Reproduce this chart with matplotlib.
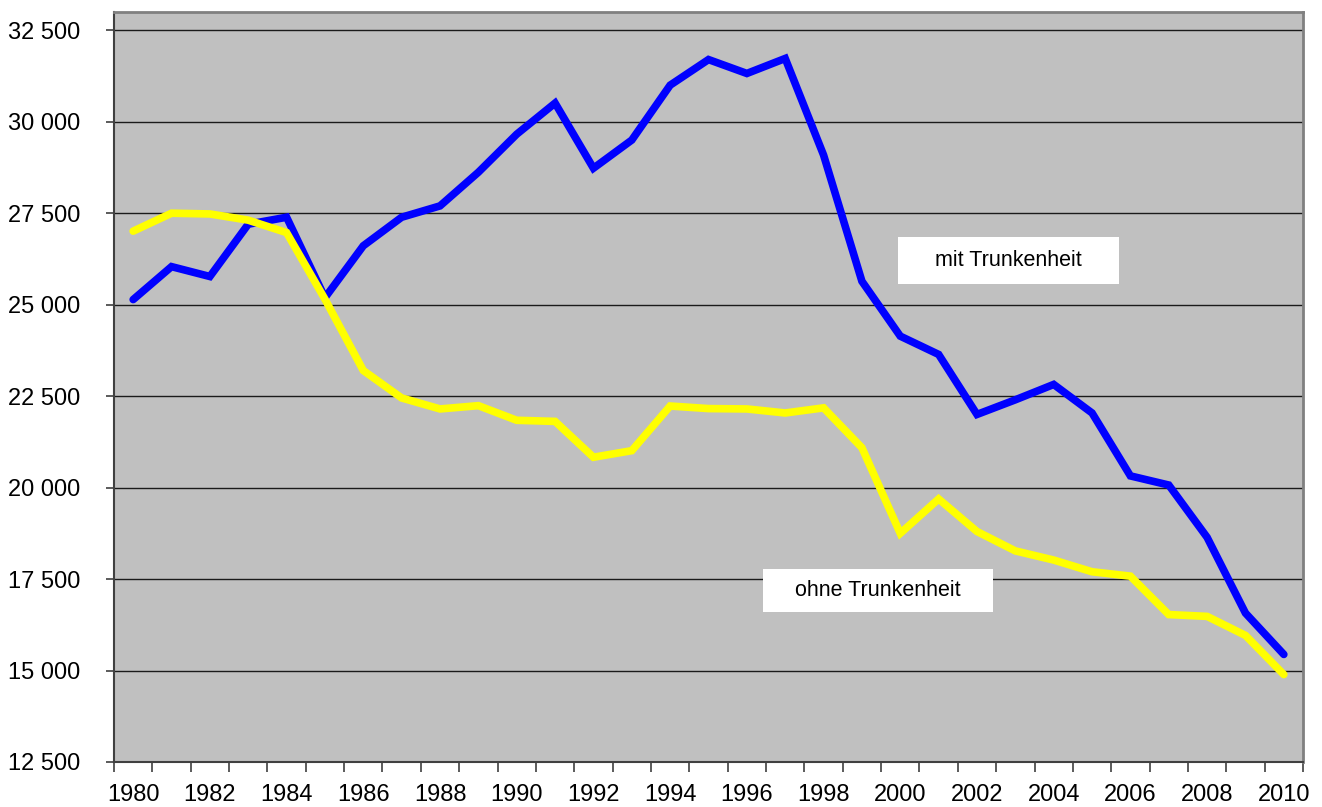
import matplotlib
matplotlib.use("Agg")
import matplotlib.pyplot as plt
from matplotlib.patches import Rectangle
from matplotlib.ticker import FuncFormatter, MultipleLocator

plt.rcParams['font.family'] = ['Liberation Sans', 'DejaVu Sans']

years = list(range(1980, 2011))
mit_trunkenheit = [25140, 26040, 25770, 27200, 27390, 25190, 26610, 27390, 27700, 28620,
                   29660, 30510, 28730, 29500, 31000, 31700, 31320, 31730, 29090, 25640,
                   24140, 23640, 22000, 22400, 22820, 22040, 20320, 20070, 18640, 16570,
                   15440]
ohne_trunkenheit = [27010, 27500, 27480, 27310, 26970, 25150, 23200, 22450, 22150, 22240,
                    21840, 21810, 20830, 21010, 22230, 22160, 22150, 22040, 22180, 21090,
                    18750, 19690, 18800, 18270, 18020, 17700, 17580, 16530, 16480, 15960,
                    14890]
ytick_values = [12500, 15000, 17500, 20000, 22500, 25000, 27500, 30000, 32500]
xtick_years = list(range(1980, 2011, 2))

W, H = 1322, 807
fig = plt.figure(figsize=(W / 100, H / 100), dpi=100)
ax = fig.add_axes([114 / W, 1 - 762 / H, (1303 - 114) / W, (762 - 12) / H])
ax.set_facecolor('#C0C0C0')

ax.set_xlim(years[0] - 0.5, years[-1] + 0.5)
ax.set_ylim(12500, 33000)

for v in ytick_values[1:]:
    ax.axhline(v, color='#1a1a1a', lw=1.0, zorder=1)

ax.plot(years, mit_trunkenheit, color='#0000FF', lw=5.5, solid_capstyle='round',
        solid_joinstyle='miter', zorder=3)
ax.plot(years, ohne_trunkenheit, color='#FFFF00', lw=5.5, solid_capstyle='round',
        solid_joinstyle='miter', zorder=3)

ax.set_yticks(ytick_values)
ax.yaxis.set_major_formatter(FuncFormatter(lambda v, p: f"{int(v):,}".replace(",", " ")))
ax.tick_params(axis='y', direction='out', length=6, width=1.2, color='#404040',
               labelsize=17, pad=18)

ax.set_xticks(xtick_years)
ax.set_xticklabels([str(y) for y in xtick_years])
ax.xaxis.set_minor_locator(MultipleLocator(1, offset=0.5))
ax.tick_params(axis='x', which='major', length=0, labelsize=17, pad=16)
ax.tick_params(axis='x', which='minor', direction='out', length=7, width=1.2, color='#404040')

for s in ['left', 'bottom']:
    ax.spines[s].set_color('#404040')
    ax.spines[s].set_linewidth(1.5)
for s in ['top', 'right']:
    ax.spines[s].set_color('#808080')
    ax.spines[s].set_linewidth(2)

def label_box(x0, y0, x1, y1, text):
    # pixel coords (top-left origin) -> axes fraction
    ax0 = (x0 - 114) / (1303 - 114)
    ax1 = (x1 - 114) / (1303 - 114)
    ay0 = (762 - y1) / (762 - 12)
    ay1 = (762 - y0) / (762 - 12)
    ax.add_patch(Rectangle((ax0, ay0), ax1 - ax0, ay1 - ay0, transform=ax.transAxes,
                           facecolor='white', edgecolor='none', zorder=4))
    ax.text((ax0 + ax1) / 2, (ay0 + ay1) / 2, text, transform=ax.transAxes,
            ha='center', va='center', fontsize=15.5, color='black', zorder=5)

label_box(898, 237, 1119, 284, 'mit Trunkenheit')
label_box(763, 569, 993, 612, 'ohne Trunkenheit')

fig.savefig('out.png', dpi=100, facecolor='white')
